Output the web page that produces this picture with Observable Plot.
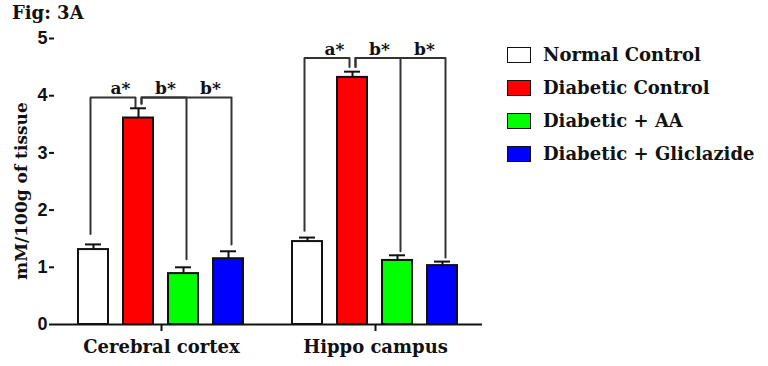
<!DOCTYPE html>
<html><head><meta charset="utf-8">
<script src="https://cdn.jsdelivr.net/npm/d3@7"></script>
<script src="https://cdn.jsdelivr.net/npm/@observablehq/plot@0.6"></script>
<style>
body{margin:0;background:#fff;}
#wrap{position:relative;width:768px;height:366px;overflow:hidden;font-family:"DejaVu Serif",serif;font-weight:bold;color:#111;}
#chart{position:absolute;left:0;top:0;}
#title{position:absolute;left:12px;top:2px;font-size:18px;}
#ylabel{position:absolute;left:21px;top:191px;transform:translate(-50%,-50%) rotate(-90deg);white-space:nowrap;font-size:17px;}
#legend{position:absolute;left:507px;top:38px;}
.item{display:flex;align-items:center;height:33px;font-size:18px;}
.sw{width:22px;height:14px;border:1.5px solid #111;margin-right:12px;}
</style></head>
<body><div id="wrap"><div id="chart"></div><div id="title">Fig: 3A</div><div id="ylabel">mM/100g of tissue</div><div id="legend"></div></div>
<script>
const groups = ["Cerebral cortex", "Hippo campus"];
const treatments = ["Normal Control", "Diabetic Control", "Diabetic + AA", "Diabetic + Gliclazide"];
const colors = ["#ffffff", "#ff0000", "#00ff00", "#0000ff"];
const cortexMean = [1.31, 3.61, 0.89, 1.15];
const cortexSEM = [0.09, 0.17, 0.11, 0.13];
const hippoMean = [1.45, 4.32, 1.12, 1.03];
const hippoSEM = [0.07, 0.10, 0.09, 0.07];
const yTicks = [0, 1, 2, 3, 4, 5];

// significance brackets (values in data units)
const bracketGroup = ["Cerebral cortex", "Cerebral cortex", "Cerebral cortex", "Hippo campus", "Hippo campus", "Hippo campus"];
const bracketKind = ["a", "b", "b", "a", "b", "b"];
const bracketFrom = ["Normal Control", "Diabetic Control", "Diabetic Control", "Normal Control", "Diabetic Control", "Diabetic Control"];
const bracketTo = ["Diabetic Control", "Diabetic + AA", "Diabetic + Gliclazide", "Diabetic Control", "Diabetic + AA", "Diabetic + Gliclazide"];
const bracketFromEnd = [1.58, 3.86, 3.86, 1.64, 4.50, 4.50];
const bracketToEnd = [3.80, 1.14, 1.40, 4.50, 1.28, 1.17];
const bracketLevel = [3.97, 3.97, 3.97, 4.66, 4.66, 4.66];
const labelGroup = ["Cerebral cortex", "Cerebral cortex", "Cerebral cortex", "Hippo campus", "Hippo campus", "Hippo campus"];
const labelAt = ["Normal Control", "Diabetic Control", "Diabetic + AA", "Normal Control", "Diabetic Control", "Diabetic + AA"];
const labelText = ["a*", "b*", "b*", "a*", "b*", "b*"];

const bars = [];
groups.forEach((g, gi) => {
  const m = gi === 0 ? cortexMean : hippoMean;
  const s = gi === 0 ? cortexSEM : hippoSEM;
  treatments.forEach((t, ti) => bars.push({group: g, treatment: t, value: m[ti], hi: m[ti] + s[ti]}));
});
const bracketPts = [];
bracketGroup.forEach((g, i) => {
  const base = {group: g, id: i, kind: bracketKind[i]};
  bracketPts.push({...base, x: bracketFrom[i], y: bracketFromEnd[i]});
  bracketPts.push({...base, x: bracketFrom[i], y: bracketLevel[i]});
  bracketPts.push({...base, x: bracketTo[i], y: bracketLevel[i]});
  bracketPts.push({...base, x: bracketTo[i], y: bracketToEnd[i]});
});
const labels = labelGroup.map((g, i) => {
  const bi = bracketGroup.findIndex((bg) => bg === g);
  return {group: g, at: labelAt[i], text: labelText[i], level: bracketLevel[bi]};
});

const serif = "DejaVu Serif, serif";
const ink = "#111";
const chart = Plot.plot({
  width: 768, height: 366,
  marginLeft: 53, marginRight: 286, marginTop: 38, marginBottom: 42,
  style: {background: "transparent", color: ink},
  fx: {domain: groups, padding: 0},
  x: {domain: treatments, paddingInner: 0.326, paddingOuter: 0.495, axis: null},
  y: {domain: [0, 5]},
  color: {domain: treatments, range: colors},
  marks: [
    Plot.line(bracketPts.filter(d => d.kind === "a"), {fx: "group", x: "x", y: "y", z: "id", stroke: "#333", strokeWidth: 2, dx: -3, curve: "linear"}),
    Plot.line(bracketPts.filter(d => d.kind === "b"), {fx: "group", x: "x", y: "y", z: "id", stroke: "#333", strokeWidth: 2, dx: 3, curve: "linear"}),
    Plot.text(labels, {fx: "group", x: "at", y: "level", text: "text", dx: 27, dy: -3, lineAnchor: "bottom", fontSize: 17, fontWeight: "bold", fontFamily: serif, fill: ink}),
    Plot.ruleX(bars, {fx: "group", x: "treatment", y1: "value", y2: "hi", stroke: ink, strokeWidth: 2}),
    Plot.tickY(bars, {fx: "group", x: "treatment", y: "hi", stroke: ink, strokeWidth: 2, insetLeft: 7, insetRight: 7}),
    Plot.barY(bars, {fx: "group", x: "treatment", y: "value", fill: "treatment", stroke: ink, strokeWidth: 2}),
    Plot.ruleY([0], {stroke: ink, strokeWidth: 2}),
    Plot.axisY({ticks: yTicks, tickFormat: "d", tickSize: 5, tickPadding: 2, fontSize: 18, fontWeight: "bold", fontFamily: "Liberation Sans, Arial, sans-serif", label: null, strokeWidth: 2, line: true, fill: ink}),
    Plot.axisFx({anchor: "bottom", tickSize: 7, tickPadding: 9, fontSize: 18, fontWeight: "bold", fontFamily: serif, label: null, strokeWidth: 2, fill: ink})
  ]
});
document.getElementById("chart").appendChild(chart);

const legend = document.getElementById("legend");
treatments.forEach((t, i) => {
  const row = document.createElement("div");
  row.className = "item";
  const sw = document.createElement("div");
  sw.className = "sw";
  sw.style.background = colors[i];
  const lab = document.createElement("span");
  lab.textContent = t;
  row.appendChild(sw); row.appendChild(lab);
  legend.appendChild(row);
});
</script></body></html>
